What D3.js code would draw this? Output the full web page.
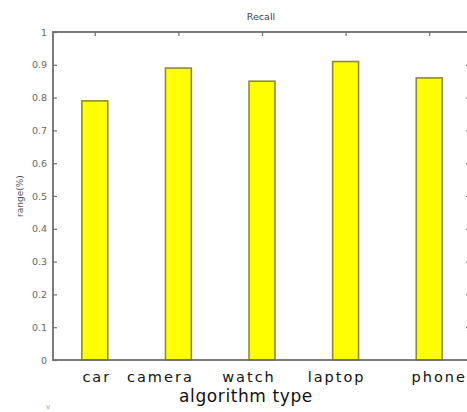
<!DOCTYPE html>
<html>
<head>
<meta charset="utf-8">
<script src="https://cdn.jsdelivr.net/npm/d3@7"></script>
<style>
  html, body { margin: 0; padding: 0; background: #fff; }
  svg { display: block; }
</style>
</head>
<body>
<script>
const categories = ["car", "camera", "watch", "laptop", "phone"];
const recall = [0.79, 0.89, 0.85, 0.91, 0.86];
const yTicks = [0, 0.1, 0.2, 0.3, 0.4, 0.5, 0.6, 0.7, 0.8, 0.9, 1];
const titleText = "Recall";
const xLabel = "algorithm type";
const yLabel = "range(%)";

(function () {
const W = 467, H = 412;
const pLeft = 53, pRight = 471, pTop = 32, pBottom = 360;
// horizontal nudges of category labels (they sit slightly off the bar centres in the original)
const labelShift = [2, -18, -13, -9, 10];

const svg = d3.select("body").append("svg").attr("width", W).attr("height", H);

const x = d3.scaleBand().domain(categories).range([pLeft, pRight])
  .paddingInner(0.69).paddingOuter(0.345);
const y = d3.scaleLinear().domain([0, 1]).range([pBottom, pTop]);

const axisColor = "#6e6e6e";

// bars
svg.append("g").selectAll("rect").data(categories).join("rect")
  .attr("x", d => x(d))
  .attr("y", (d, i) => y(recall[i]))
  .attr("width", x.bandwidth())
  .attr("height", (d, i) => y(0) - y(recall[i]))
  .attr("fill", "#ffff00")
  .attr("stroke", "#8c8a3c")
  .attr("stroke-width", 1.6);

// left axis ticks
const gl = svg.append("g").attr("transform", `translate(${pLeft},0)`)
  .call(d3.axisRight(y).tickValues(yTicks).tickSize(4).tickFormat(""));
gl.select(".domain").remove();
gl.selectAll("line").attr("stroke", axisColor).attr("stroke-width", 1.2);

// right axis ticks
const gr = svg.append("g").attr("transform", `translate(${pRight},0)`)
  .call(d3.axisLeft(y).tickValues(yTicks).tickSize(5).tickFormat(""));
gr.select(".domain").remove();
gr.selectAll("line").attr("stroke", axisColor).attr("stroke-width", 1.2);

// top axis ticks
const xc = d => x(d) + x.bandwidth() / 2;
const xPoint = d3.scalePoint().domain(categories)
  .range([xc(categories[0]), xc(categories[categories.length - 1])]);
const gt = svg.append("g").attr("transform", `translate(0,${pTop})`)
  .call(d3.axisBottom(xPoint).tickSize(4).tickFormat(""));
gt.select(".domain").remove();
gt.selectAll("line").attr("stroke", axisColor).attr("stroke-width", 1.2);

// frame
svg.append("rect").attr("x", pLeft).attr("y", pTop)
  .attr("width", pRight - pLeft).attr("height", pBottom - pTop)
  .attr("fill", "none").attr("stroke", axisColor).attr("stroke-width", 1.8);

// y tick labels
svg.append("g").selectAll("text").data(yTicks).join("text")
  .attr("x", pLeft - 6).attr("y", d => y(d) + 3.5)
  .attr("text-anchor", "end")
  .attr("font-family", "DejaVu Sans, sans-serif")
  .attr("font-size", 9.5).attr("fill", "#666")
  .text(d => d3.format("~g")(d));

// x tick labels
svg.append("g").selectAll("text").data(categories).join("text")
  .attr("x", (d, i) => xc(d) + labelShift[i]).attr("y", 382)
  .attr("text-anchor", "middle")
  .attr("font-family", "DejaVu Sans, sans-serif")
  .attr("font-size", 14.5).attr("letter-spacing", 2).attr("fill", "#111")
  .text(d => d);

// x label
svg.append("text").attr("x", 246).attr("y", 402)
  .attr("text-anchor", "middle")
  .attr("font-family", "DejaVu Sans, sans-serif")
  .attr("font-size", 17).attr("letter-spacing", 0.6).attr("fill", "#111")
  .text(xLabel);

// title
svg.append("text").attr("x", 261).attr("y", 20)
  .attr("text-anchor", "middle")
  .attr("font-family", "DejaVu Sans, sans-serif")
  .attr("font-size", 9.5).attr("fill", "#444")
  .text(titleText);

// y label
svg.append("text")
  .attr("transform", `translate(23,${(pTop + pBottom) / 2}) rotate(-90)`)
  .attr("text-anchor", "middle")
  .attr("font-family", "DejaVu Sans, sans-serif")
  .attr("font-size", 9).attr("fill", "#555")
  .text(yLabel);

// small mark bottom-left
svg.append("text").attr("x", 48).attr("y", 409)
  .attr("text-anchor", "middle")
  .attr("font-family", "DejaVu Sans, sans-serif")
  .attr("font-size", 7).attr("fill", "#999")
  .text("v");
})();
</script>
</body>
</html>
